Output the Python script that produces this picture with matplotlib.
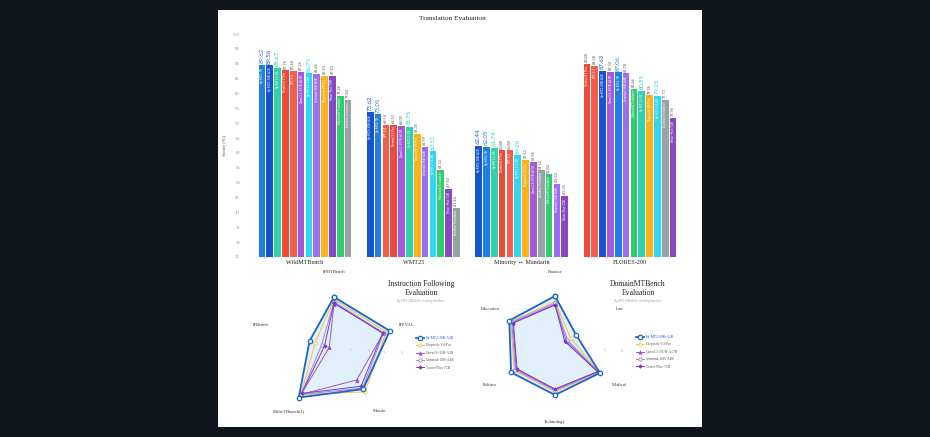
import numpy as np
import matplotlib
matplotlib.use("Agg")
import matplotlib.pyplot as plt
from matplotlib.patches import Rectangle

W, H = 930, 437

# ---------------- data ----------------
groups = ["WildMTBench", "WMT25", "Minority \u2194 Mandarin", "FLORES-200"]

wild_models = ["Hy-MT2-7B", "Hy-MT2-30B-A3B", "Hy-MT1.5-7B", "Gemini 3.1 Pro", "GPT-5.4",
               "Qwen3.5-397B-A17B", "Hy-MT1.5-1.8B", "Gemma4-26B-A4B", "Deepseek-V4-Pro",
               "Tower-Plus-72B", "Microsoft Translator", "Doubao Translator"]
wild_values = [89.62, 89.56, 88.67, 87.76, 87.68, 87.26, 86.75, 86.46, 85.93, 85.90, 79.26, 77.84]

wmt_models = ["Hy-MT2-30B-A3B", "Hy-MT2-7B", "GPT-5.4", "Gemini 3.1 Pro", "Qwen3.5-397B-A17B",
              "Hy-MT1.5-7B", "Deepseek-V4-Pro", "Gemma4-26B-A4B", "Hy-MT1.5-1.8B",
              "Microsoft Translator", "Tower-Plus-72B", "Doubao Translator"]
wmt_values = [73.62, 73.05, 69.54, 69.50, 69.00, 68.75, 66.35, 61.99, 60.55, 54.32, 47.92, 41.44]

minority_models = ["Hy-MT2-30B-A3B", "Hy-MT2-7B", "Hy-MT1.5-7B", "Gemini 3.1 Pro", "GPT-5.4",
                   "Hy-MT1.5-1.8B", "Deepseek-V4-Pro", "Qwen3.5-397B-A17B", "Doubao Translator",
                   "Microsoft Translator", "Gemma4-26B-A4B", "Tower-Plus-72B"]
minority_values = [62.44, 62.05, 61.74, 60.88, 60.84, 59.20, 57.63, 56.96, 54.11, 52.80, 49.52, 45.55]

flores_models = ["Gemini 3.1 Pro", "GPT-5.4", "Hy-MT2-30B-A3B", "Qwen3.5-397B-A17B", "Hy-MT2-7B",
                 "Gemma4-26B-A4B", "Microsoft Translator", "Hy-MT1.5-7B", "Deepseek-V4-Pro",
                 "Hy-MT1.5-1.8B", "Doubao Translator", "Tower-Plus-72B"]
flores_values = [89.88, 89.38, 87.63, 87.34, 87.06, 86.78, 81.66, 80.85, 79.36, 79.25, 77.73, 71.76]

y_ticks = list(range(25, 101, 5))

if_axes = ["IFMTBench", "IFEVAL", "Maxife", "Multi-IFbench(1)", "IFBench"]
if_series = ["Hy-MT2-30B-A3B", "Deepseek-V4-Pro", "Qwen3.6-35B-A3B", "Gemma4-26B-A4B", "Tower-Plus-72B"]
if_hy = [67.7, 76.3, 64.6, 78.1, 33.5]
if_deepseek = [65.0, 71.6, 68.9, 73.4, 25.8]
if_qwen = [59.2, 67.7, 50.0, 72.9, 6.5]
if_gemma = [61.5, 68.0, 63.0, 73.0, 17.0]
if_tower = [60.0, 66.5, 60.0, 71.5, 13.0]

dom_axes = ["Finance", "Law", "Medical", "Technology", "Politics", "Education"]
dom_series = ["Hy-MT2-30B-A3B", "Deepseek-V4-Pro", "Qwen3.5-397B-A17B", "Gemma4-26B-A4B", "Tower-Plus-72B"]
dom_hy = [68.0, 32.4, 69.2, 64.0, 67.6, 70.4]
dom_deepseek = [60.4, 24.0, 68.0, 59.6, 62.7, 68.0]
dom_qwen = [57.0, 17.0, 66.0, 57.0, 59.6, 65.0]
dom_gemma = [58.5, 19.0, 67.0, 58.0, 61.0, 66.5]
dom_tower = [56.0, 15.0, 65.5, 56.0, 58.5, 64.0]

radial_ticks = [20, 40, 60, 80]

# ---------------- styles ----------------
colors = {
    "Hy-MT2-30B-A3B": "#1556cf",
    "Hy-MT2-7B": "#1f7fe6",
    "Hy-MT1.5-7B": "#2fd2ad",
    "Hy-MT1.5-1.8B": "#33d6ef",
    "Gemini 3.1 Pro": "#ec4a3b",
    "GPT-5.4": "#f45d4c",
    "Qwen3.5-397B-A17B": "#a458da",
    "Gemma4-26B-A4B": "#9c6ff0",
    "Deepseek-V4-Pro": "#fbb31a",
    "Tower-Plus-72B": "#8748c2",
    "Microsoft Translator": "#2fcc72",
    "Doubao Translator": "#97a4a6",
}
hy_family = {"Hy-MT2-30B-A3B", "Hy-MT2-7B", "Hy-MT1.5-7B", "Hy-MT1.5-1.8B"}

SERIF = ["Liberation Serif", "DejaVu Serif"]
SANS = ["Lato", "DejaVu Sans"]

fig = plt.figure(figsize=(W / 100, H / 100), dpi=100, facecolor="#0f131a")


def fx(x):
    return x / W


def fy(y):
    return 1 - y / H


bg = Rectangle((fx(218), fy(427)), fx(702) - fx(218), fy(10) - fy(427),
               transform=fig.transFigure, facecolor="white", edgecolor="none", zorder=-10)
fig.patches.append(bg)

# ---------------- bar chart ----------------
ax = fig.add_axes([fx(245.4), fy(257), fx(689.6) - fx(245.4), fy(34) - fy(257)])
ax.set_facecolor("none")
slot = 0.0723
bw = 0.062
all_models = [wild_models, wmt_models, minority_models, flores_models]
all_values = [wild_values, wmt_values, minority_values, flores_values]
for g, (models, values) in enumerate(zip(all_models, all_values)):
    n = len(models)
    xs = g + (np.arange(n) - (n - 1) / 2) * slot
    ax.bar(xs, values, width=bw, color=[colors[m] for m in models], zorder=2)
    for x, v, m in zip(xs, values, models):
        if m in hy_family:
            ax.text(x, v + 0.5, f"{v:.2f}", rotation=90, ha="center", va="bottom",
                    fontsize=4.3, color=colors[m], family=SANS)
        else:
            ax.text(x, v + 0.6, f"{v:.2f}", rotation=90, ha="center", va="bottom",
                    fontsize=2.8, color="#555555", family=SANS)
        ax.text(x, v - 0.6, m, rotation=90, ha="center", va="top",
                fontsize=2.2, color="white", family=SANS, zorder=3)

ax.set_xlim(-0.55, 3.55)
ax.set_ylim(25, 100)
ax.set_yticks(y_ticks)
ax.set_yticklabels([str(t) for t in y_ticks], fontsize=3.3, color="#8a8a8a", family=SERIF)
ax.set_xticks(range(len(groups)))
ax.set_xticklabels(groups, fontsize=4.4, color="#222222", family=SERIF)
ax.tick_params(axis="both", length=0)
ax.tick_params(axis="x", pad=2.2)
ax.tick_params(axis="y", pad=4)
for s in ax.spines.values():
    s.set_visible(False)
ax.set_ylabel("Score (%)", fontsize=3.8, color="#444444", family=SERIF, labelpad=5)
fig.text(fx(452), fy(18), "Translation Evaluation", ha="center", va="center",
         fontsize=5.2, color="#222222", family=SERIF)


# ---------------- radar charts ----------------
def radar(cx, cy, R, axes_names, series_names, series_vals, title, title_x, leg_x, leg_y):
    rax = fig.add_axes([fx(cx - R), fy(cy + R), 2 * R / W, 2 * R / H], projection="polar")
    rax.set_facecolor("none")
    rax.set_theta_offset(np.pi / 2)
    rax.set_theta_direction(-1)
    rax.set_ylim(0, 100)
    rax.grid(False)
    rax.spines["polar"].set_visible(False)
    rax.set_xticks([])
    rax.set_yticks([])
    n = len(axes_names)
    ang = np.linspace(0, 2 * np.pi, n, endpoint=False)
    angc = np.concatenate([ang, ang[:1]])
    styles = [
        dict(color="#1a66cc", lw=1.3, marker="o", ms=3.2, mfc="white", mew=0.9, zorder=6),
        dict(color="#f4c23c", lw=0.7, marker="o", ms=2.4, mfc="white", mew=0.6, zorder=5),
        dict(color="#9a55d4", lw=0.7, marker="^", ms=2.4, mew=0.5, zorder=5),
        dict(color="#a67fe8", lw=0.7, marker="o", ms=2.4, mfc="white", mew=0.6, zorder=5),
        dict(color="#7a3db4", lw=0.7, marker="D", ms=1.8, mew=0.5, zorder=5),
    ]
    handles = []
    for i, (name, vals) in enumerate(zip(series_names, series_vals)):
        v = np.concatenate([vals, vals[:1]])
        if i == 0:
            rax.fill(angc, v, color="#cfe7fb", alpha=0.6, zorder=1)
        ln, = rax.plot(angc, v, label=name, **styles[i])
        handles.append(ln)
    for a, lab in zip(ang, axes_names):
        rax.text(a, 100, lab, ha="center", va="center", fontsize=3.3,
                 color="#333333", family=SERIF, clip_on=False)
    for t in radial_ticks:
        rax.text(np.deg2rad(93), t * 1.12, str(t), ha="center", va="center",
                 fontsize=1.8, color="#cccccc", family=SANS)
    fig.text(fx(title_x), fy(288.5), title, ha="center", va="center",
             fontsize=5.5, color="#222222", family=SERIF, linespacing=1.3)
    fig.text(fx(title_x), fy(301), "Hy-MT2-30B-A3B vs leading baselines", ha="center",
             va="center", fontsize=2.0, color="#9a9a9a", family=SANS)
    leg = fig.legend(handles=handles, loc="upper left",
                     bbox_to_anchor=(fx(leg_x), fy(leg_y)), frameon=False,
                     handlelength=2.2, handletextpad=0.6, labelspacing=0.95,
                     borderaxespad=0, borderpad=0, prop={"family": SERIF, "size": 2.6})
    for i, txt in enumerate(leg.get_texts()):
        txt.set_color(colors["Hy-MT2-30B-A3B"] if i == 0 else "#555555")
    return rax


radar(334, 349, 76.8, if_axes, if_series,
      [if_hy, if_deepseek, if_qwen, if_gemma, if_tower],
      "Instruction Following\nEvaluation", 421, 416, 336)
radar(555, 347, 75.0, dom_axes, dom_series,
      [dom_hy, dom_deepseek, dom_qwen, dom_gemma, dom_tower],
      "DomainMTBench\nEvaluation", 638, 636, 335)

fig.savefig("out.png", dpi=100, facecolor=fig.get_facecolor())
